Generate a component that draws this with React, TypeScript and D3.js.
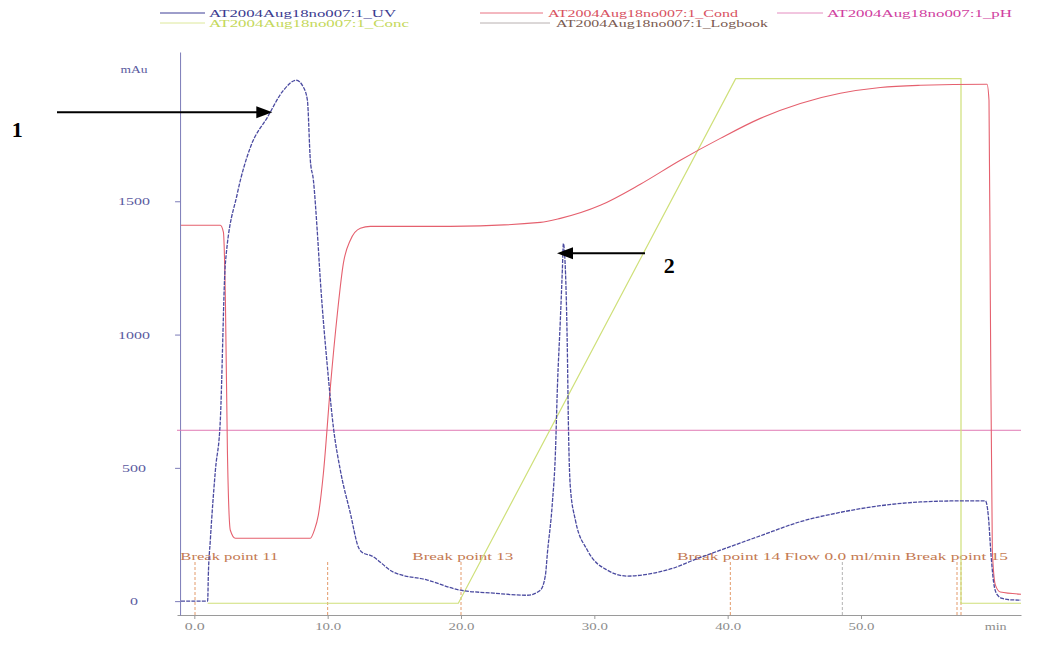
import React, { useEffect, useRef } from "react";
import * as d3 from "d3";

const WIDTH = 1037;
const HEIGHT = 652;

// UV trace (mAu)
const uvTimes = [-1.0, 1.0, 1.05, 1.2, 1.58, 1.95, 2.33, 3.23, 4.2, 5.48, 6.68, 7.65, 8.18, 8.48, 8.7, 8.93, 9.23, 9.45, 9.98, 10.43, 10.95, 11.7, 12.3, 12.68, 13.2, 14.93, 17.48, 19.95, 22.43, 24.98, 25.95, 26.33, 26.48, 26.85, 27.08, 27.23, 27.45, 27.6, 27.68, 27.75, 27.9, 27.98, 28.05, 28.2, 28.58, 29.48, 30.98, 32.48, 34.43, 35.93, 37.43, 39.45, 42.45, 45.45, 48.45, 51.45, 54.45, 57.45, 59.33, 59.55, 59.75, 59.95, 60.2, 60.6, 61.2, 62.0];
const uvValues = [0, 0, 97, 229, 491, 680, 1268, 1530, 1702, 1815, 1916, 1954, 1928, 1879, 1654, 1579, 1380, 1204, 878, 652, 491, 330, 203, 180, 172, 109, 79, 41, 30, 22, 41, 97, 180, 367, 555, 802, 1054, 1241, 1342, 1316, 1129, 930, 679, 428, 304, 191, 116, 94, 105, 124, 154, 191, 245, 298, 333, 358, 372, 376, 376, 320, 175, 70, 25, 10, 5, 4];

// conductivity trace (drawn on the same pixel scale as the scan)
const condTimes = [-1.0, 1.95, 2.18, 2.33, 2.48, 2.7, 3.08, 8.7, 9.0, 9.3, 9.68, 10.2, 10.73, 11.18, 11.7, 12.45, 13.2, 19.2, 25.95, 27.45, 30.45, 33.45, 36.45, 39.45, 42.45, 45.45, 48.45, 51.45, 54.45, 59.45, 59.6, 59.7, 59.85, 60.08, 60.45, 62.0];
const condValues = [1410, 1410, 1384, 1129, 566, 266, 236, 236, 266, 323, 480, 802, 1080, 1268, 1354, 1399, 1406, 1406, 1421, 1436, 1485, 1564, 1654, 1736, 1811, 1867, 1905, 1927, 1935, 1939, 1879, 1129, 191, 60, 34, 26];

// gradient (conc) trace
const concTimes = [1.0, 19.8, 40.6, 57.5, 57.5, 62.0];
const concValues = [-8, -8, 1960, 1960, -8, -8];

// pH is flat over the whole run
const phTimes = [-1.3, 62.0];
const phValues = [641, 641];

// logbook marks
const breakTimes = [0.05, 10.0, 20.0, 40.2, 57.2, 57.5];
const flowTimes = [48.6];

const yTicks = [0, 500, 1000, 1500];
const xTicks = [0, 10, 20, 30, 40, 50];

const FONT = "'Liberation Serif', 'Times New Roman', serif";

const App = () => {
  const svgRef = useRef<SVGSVGElement | null>(null);

  useEffect(() => {
    const svg = d3.select(svgRef.current);
    svg.selectAll("*").remove();

    //scales, tuned so 0.0 min sits at x=194 and 0 mAu at y=601
    const x = d3.scaleLinear().domain([-1.3, 62]).range([177, 1021]);
    const y = d3.scaleLinear().domain([-52, 2060]).range([615, 52]);
    const axisX = x(-1.07);

    //small helper for stretched serif text
    const label = (
      g: any,
      txt: string,
      px: number,
      py: number,
      len: number,
      color: string,
      size = 11,
      anchor = "start"
    ) =>
      g
        .append("text")
        .attr("x", px)
        .attr("y", py)
        .attr("fill", color)
        .attr("font-family", FONT)
        .attr("font-size", size)
        .attr("text-anchor", anchor)
        .attr("textLength", len)
        .attr("lengthAdjust", "spacingAndGlyphs")
        .text(txt);

    //legend
    const legend = svg.append("g");
    const legendRows = [
      { x1: 160, x2: 205, y: 13, color: "#3c3c96", tx: 209, ty: 17, len: 187, text: "AT2004Aug18no007:1_UV", tc: "#3a3a90" },
      { x1: 480, x2: 543, y: 13, color: "#e87080", tx: 548, ty: 17, len: 190, text: "AT2004Aug18no007:1_Cond", tc: "#d85060" },
      { x1: 777, x2: 823, y: 13, color: "#e48cc0", tx: 827, ty: 17, len: 185, text: "AT2004Aug18no007:1_pH", tc: "#d040a0" },
      { x1: 160, x2: 205, y: 23, color: "#dde89a", tx: 209, ty: 27, len: 200, text: "AT2004Aug18no007:1_Conc", tc: "#c4d85a" },
      { x1: 480, x2: 550, y: 23, color: "#b8b0b0", tx: 556, ty: 27, len: 212, text: "AT2004Aug18no007:1_Logbook", tc: "#7a5a50" },
    ];
    legendRows.forEach((r) => {
      legend
        .append("line")
        .attr("x1", r.x1)
        .attr("x2", r.x2)
        .attr("y1", r.y)
        .attr("y2", r.y)
        .attr("stroke", r.color)
        .attr("stroke-width", 1);
      label(legend, r.text, r.tx, r.ty, r.len, r.tc, 10.5);
    });

    //x-axis
    const xAxis = svg
      .append("g")
      .attr("transform", `translate(0, ${y.range()[0]})`)
      .call(
        d3
          .axisBottom(x)
          .tickValues(xTicks)
          .tickSizeInner(4)
          .tickSizeOuter(0)
          .tickFormat(d3.format(".1f"))
      );
    xAxis.select(".domain").attr("stroke", "#9a9a9a");
    xAxis.selectAll(".tick line").attr("stroke", "#9a9a9a");
    xAxis
      .selectAll(".tick text")
      .attr("fill", "#8c8c8c")
      .attr("font-family", FONT)
      .attr("font-size", 11)
      .attr("textLength", (d: any) => (d === 0 ? 20 : 26))
      .attr("lengthAdjust", "spacingAndGlyphs");
    label(svg, "min", x(60.1), 630, 22, "#8c8c8c", 11, "middle");

    //y-axis
    const yAxis = svg
      .append("g")
      .attr("transform", `translate(${axisX}, 0)`)
      .call(
        d3
          .axisLeft(y)
          .tickValues(yTicks)
          .tickSizeInner(5)
          .tickSizeOuter(0)
          .tickFormat(d3.format("d"))
      );
    yAxis.select(".domain").attr("stroke", "#7b7bb8");
    yAxis.selectAll(".tick line").attr("stroke", "#7b7bb8");
    yAxis
      .selectAll(".tick text")
      .attr("x", -46)
      .attr("text-anchor", "middle")
      .attr("fill", "#5a5aa0")
      .attr("font-family", FONT)
      .attr("font-size", 11)
      .attr("textLength", (d: any) => String(d).length * 8)
      .attr("lengthAdjust", "spacingAndGlyphs");
    label(svg, "mAu", axisX - 46, y(1995) + 4, 27, "#5a5aa0", 10, "middle");

    //logbook dashed marks
    svg
      .append("g")
      .selectAll("line")
      .data(breakTimes)
      .enter()
      .append("line")
      .attr("x1", (d) => x(d))
      .attr("x2", (d) => x(d))
      .attr("y1", 562)
      .attr("y2", y.range()[0])
      .attr("stroke", "#e39a6a")
      .attr("stroke-width", 1)
      .attr("stroke-dasharray", "3 2");
    svg
      .append("g")
      .selectAll("line")
      .data(flowTimes)
      .enter()
      .append("line")
      .attr("x1", (d) => x(d))
      .attr("x2", (d) => x(d))
      .attr("y1", 562)
      .attr("y2", y.range()[0])
      .attr("stroke", "#b4b4b4")
      .attr("stroke-width", 1)
      .attr("stroke-dasharray", "3 2");

    const bpColor = "#c47a52";
    label(svg, "Break point 11", x(-1.05), 560, 98, bpColor);
    label(svg, "Break point 13", x(16.35), 560, 101, bpColor);
    label(svg, "Break point 14 Flow 0.0 ml/min Break point 15", x(36.2), 560, 331, bpColor);

    //traces
    const zip = (ts: number[], vs: number[]) => ts.map((t, i) => [t, vs[i]] as [number, number]);
    const smooth = d3
      .line<[number, number]>()
      .x((d) => x(d[0]))
      .y((d) => y(d[1]))
      .curve(d3.curveMonotoneX);
    const straight = d3
      .line<[number, number]>()
      .x((d) => x(d[0]))
      .y((d) => y(d[1]));

    svg
      .append("path")
      .datum(zip(phTimes, phValues))
      .attr("fill", "none")
      .attr("stroke", "#e07ab4")
      .attr("stroke-width", 1)
      .attr("d", straight);

    svg
      .append("path")
      .datum(zip(concTimes, concValues))
      .attr("fill", "none")
      .attr("stroke", "#cfe07a")
      .attr("stroke-width", 1.2)
      .attr("d", straight);

    svg
      .append("path")
      .datum(zip(condTimes, condValues))
      .attr("fill", "none")
      .attr("stroke", "#e5606e")
      .attr("stroke-width", 1.1)
      .attr("d", smooth);

    svg
      .append("path")
      .datum(zip(uvTimes, uvValues))
      .attr("fill", "none")
      .attr("stroke", "#4a4aa0")
      .attr("stroke-width", 1.3)
      .attr("stroke-dasharray", "4 1.2")
      .attr("d", smooth);

    //annotation arrows "1" and "2"
    const arrow = (x1: number, x2: number, yy: number) => {
      const dir = Math.sign(x2 - x1);
      svg
        .append("line")
        .attr("x1", x1)
        .attr("x2", x2 - dir * 14)
        .attr("y1", yy)
        .attr("y2", yy)
        .attr("stroke", "#000")
        .attr("stroke-width", 2);
      svg
        .append("path")
        .attr("d", `M${x2},${yy} L${x2 - dir * 16},${yy - 6} L${x2 - dir * 16},${yy + 6} Z`)
        .attr("fill", "#000");
    };
    arrow(x(-10.3), x(5.85), y(1834));
    arrow(x(33.8), x(27.2), y(1305));
    svg
      .append("text")
      .attr("x", x(-13.7))
      .attr("y", y(1740))
      .attr("font-family", FONT)
      .attr("font-weight", "bold")
      .attr("font-size", 22)
      .text("1");
    svg
      .append("text")
      .attr("x", x(35.2))
      .attr("y", y(1230))
      .attr("font-family", FONT)
      .attr("font-weight", "bold")
      .attr("font-size", 22)
      .text("2");
  }, []);

  return (
    <svg
      ref={svgRef}
      width={WIDTH}
      height={HEIGHT}
      style={{ position: "absolute", left: 0, top: 0, background: "#fff" }}
    />
  );
};

export default App;
